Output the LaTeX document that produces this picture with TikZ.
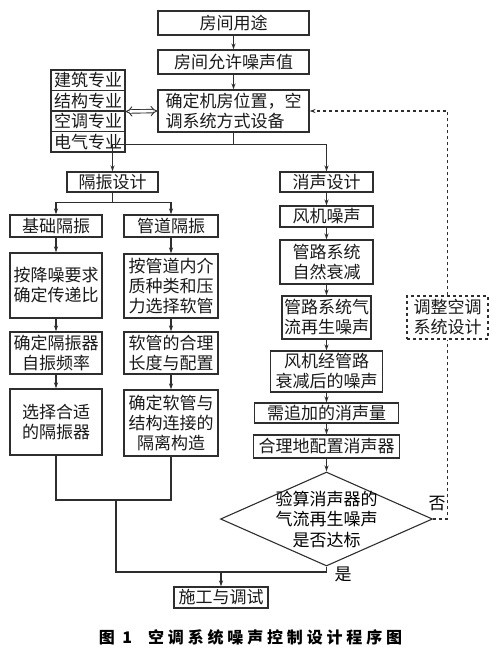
\documentclass[tikz,border=0pt]{standalone}
\usepackage{fontspec}
\setmainfont{Noto Sans CJK SC}
\usetikzlibrary{arrows.meta,shapes.geometric}

\definecolor{ink}{HTML}{2E2E2E}

\tikzset{
    box/.style={draw=ink, line width=1.1pt, inner sep=0pt, align=center,
        text=black!90, font=\fontsize{17}{20}\selectfont},
    sz/.style 2 args={minimum width=#1pt, minimum height=#2pt},
    dbox/.style={box, dashed},
    wire/.style={draw=ink, line width=1.1pt},
    arr/.style={wire, -{Stealth[length=6pt,width=4pt]}},
    lab/.style={inner sep=0pt, font=\fontsize{17}{20}\selectfont}
    }

\begin{document}
\begin{tikzpicture}[x=1pt, y=-1pt]
                \useasboundingbox (0,0) rectangle (502,667);
                % The top part
                \node[box, sz={151}{24}] (use) at (233.5,23) {房间用途};
                \node[box, sz={151}{24}] (allow) at (233.5,62) {房间允许噪声值};
                \node[box, sz={151}{42}, align=left] (site) at (233.5,111) {确定机房位置，空\\调系统方式设备};
                \node[box, sz={74}{20.5}] (jianzhu) at (88,80.25) {建筑专业};
                \node[box, sz={74}{20.5}] (jiegou) at (88,100.75) {结构专业};
                \node[box, sz={74}{20.5}] (kongtiao) at (88,121.25) {空调专业};
                \node[box, sz={74}{20.5}] (dianqi) at (88,141.75) {电气专业};
                \draw[arr] (use) -- (allow);
                \draw[arr] (allow) -- (site);
                \draw[draw=ink, line width=0.9pt, double, double distance=2.6pt, {Implies}-{Implies}] (jiegou.south east) -- (site.west);
                % Vibration isolation
                \node[box, sz={91}{20}] (vib) at (112.5,182) {隔振设计};
                \node[box, sz={92}{22}] (base) at (56,226) {基础隔振};
                \node[box, sz={94}{22}] (pipe) at (171,226) {管道隔振};
                \node[box, sz={92}{65}] (b1) at (56,285.5) {按降噪要求\\确定传递比};
                \node[box, sz={94}{64}] (p1) at (171,286) {按管道内介\\质种类和压\\力选择软管};
                \node[box, sz={92}{42}] (b2) at (56,353) {确定隔振器\\自振频率};
                \node[box, sz={94}{42}] (p2) at (171,353) {软管的合理\\长度与配置};
                \node[box, sz={92}{66}] (b3) at (56,422) {选择合适\\的隔振器};
                \node[box, sz={94}{66}] (p3) at (171,423) {确定软管与\\结构连接的\\隔离构造};
                \draw[arr] (site.south) -- ++(0,12) coordinate (split) -| (vib.north);
                \draw[arr] (vib.south) -- ++(0,10) coordinate (vsplit) -| (base.north);
                \draw[arr] (vsplit) -| (pipe.north);
                \draw[arr] (base) -- (b1);
                \draw[arr] (b1) -- (b2);
                \draw[arr] (b2) -- (b3);
                \draw[arr] (pipe) -- (p1);
                \draw[arr] (p1) -- (p2);
                \draw[arr] (p2) -- (p3);
                % Noise reduction
                \node[box, sz={93}{20}] (noise) at (326.5,182) {消声设计};
                \node[box, sz={93}{21}] (fan) at (326.5,216.5) {风机噪声};
                \node[box, sz={93}{44}] (nat) at (326.5,262) {管路系统\\自然衰减};
                \node[box, sz={89}{43}] (regen) at (326.5,317.5) {管路系统气\\流再生噪声};
                \node[box, sz={112}{41}] (after) at (326.5,371.5) {风机经管路\\衰减后的噪声};
                \node[box, sz={144}{20}] (need) at (326.5,413) {需追加的消声量};
                \node[box, sz={146}{23}] (place) at (326.5,446.5) {合理地配置消声器};
                \node[draw=ink, line width=1.1pt, diamond, sz={212}{94}, inner sep=0pt] (check) at (326.5,519) {};
                \node[lab, align=center, font=\fontsize{17}{20.5}\selectfont] (checktxt) at (check) {验算消声器的\\气流再生噪声\\是否达标};
                \draw[arr] (split) -| (noise.north);
                \draw[arr] (noise) -- (fan);
                \draw[arr] (fan) -- (nat);
                \draw[arr] (nat) -- (regen);
                \draw[arr] (regen) -- (after);
                \draw[arr] (after) -- (need);
                \draw[arr] (need) -- (place);
                \draw[arr] (place) -- (check.north);
                % Feedback
                \node[dbox, sz={81}{43}] (adjust) at (447.5,317.5) {调整空调\\系统设计};
                \draw[wire, dashed] (check.east) -| (adjust.south);
                \draw[arr, dashed] (adjust.north) |- (site.east);
                \node[lab] (no) at (437,504) {否};
                % Joining
                \node[box, sz={94}{21}] (build) at (221,597.5) {施工与调试};
                \coordinate (jn) at (116,500);
                \coordinate (jb) at (116,572);
                \draw[wire] (b3.south) |- (jn) -| (p3.south);
                \draw[wire] (jn) -- (jb) -| (check.south);
                \draw[arr] (build.north |- jb) -- (build.north);
                \node[lab] (yes) at (343,574) {是};
                \node[inner sep=0pt, font=\fontsize{16}{18}\bfseries\addfontfeatures{LetterSpace=24}] (cap) at (250.5,637) {图 1\hspace{1em}空调系统噪声控制设计程序图};
\end{tikzpicture}
\end{document}
